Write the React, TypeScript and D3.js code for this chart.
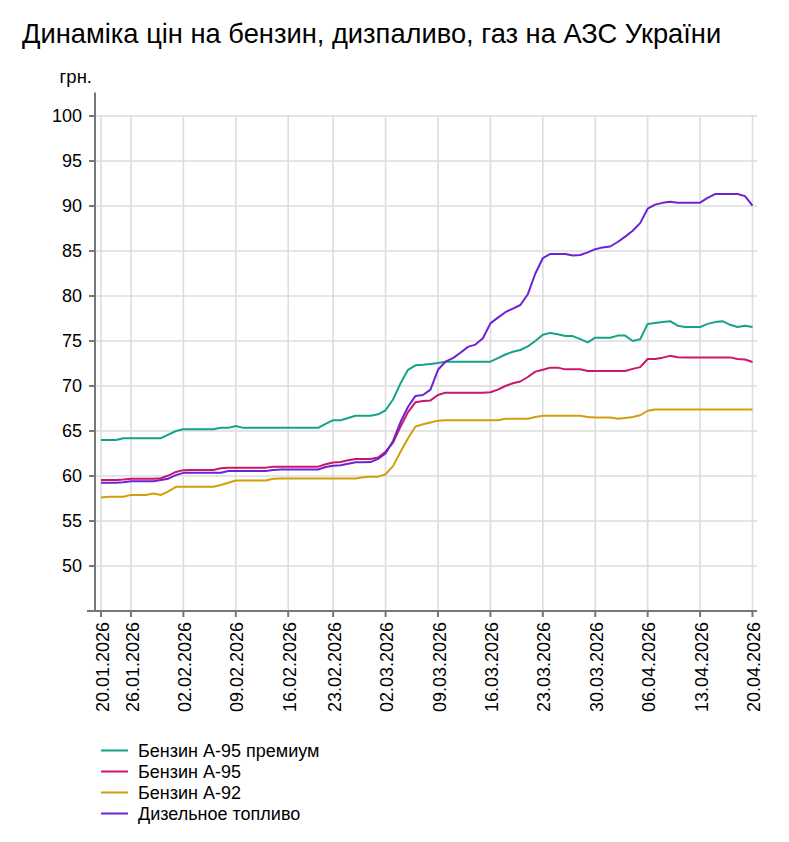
import * as d3 from 'd3';

// categories: trading days shown on the chart (a few days are absent in the source)
const skippedDays = ['24.01.2026', '25.01.2026', '22.02.2026'];
const fmt = d3.timeFormat('%d.%m.%Y');
const dates = d3.timeDay
  .range(new Date(2026, 0, 20), new Date(2026, 3, 21))
  .map(fmt)
  .filter(d => !skippedDays.includes(d));

const tickLabels = [
  '20.01.2026', '26.01.2026', '02.02.2026', '09.02.2026', '16.02.2026', '23.02.2026', '02.03.2026',
  '09.03.2026', '16.03.2026', '23.03.2026', '30.03.2026', '06.04.2026', '13.04.2026', '20.04.2026',
];

const yTicks = [50, 55, 60, 65, 70, 75, 80, 85, 90, 95, 100];

const a95premium = [
  64.0, 64.0, 64.0, 64.2, 64.2, 64.2, 64.2, 64.2, 64.2, 64.6,
  65.0, 65.2, 65.2, 65.2, 65.2, 65.2, 65.35, 65.35, 65.55, 65.35,
  65.35, 65.35, 65.35, 65.35, 65.35, 65.35, 65.35, 65.35, 65.35, 65.35,
  65.8, 66.2, 66.2, 66.45, 66.7, 66.7, 66.7, 66.85, 67.3, 68.5,
  70.3, 71.8, 72.3, 72.35, 72.45, 72.55, 72.7, 72.7, 72.7, 72.7,
  72.7, 72.7, 72.7, 73.1, 73.5, 73.8, 74.0, 74.4, 75.0, 75.7,
  75.9, 75.75, 75.55, 75.55, 75.2, 74.85, 75.37, 75.37, 75.37, 75.6,
  75.6, 75.0, 75.2, 76.9, 77.0, 77.1, 77.2, 76.7, 76.55, 76.55,
  76.55, 76.9, 77.1, 77.2, 76.8, 76.55, 76.7, 76.55,
];

const a95 = [
  59.55, 59.55, 59.55, 59.6, 59.7, 59.7, 59.7, 59.7, 59.75, 60.05,
  60.45, 60.65, 60.67, 60.67, 60.67, 60.67, 60.85, 60.93, 60.93, 60.93,
  60.93, 60.93, 60.93, 61.04, 61.04, 61.04, 61.04, 61.04, 61.04, 61.04,
  61.3, 61.5, 61.55, 61.75, 61.9, 61.9, 61.9, 62.05, 62.7, 63.7,
  65.5, 67.1, 68.2, 68.33, 68.4, 69.0, 69.26, 69.26, 69.26, 69.26,
  69.26, 69.26, 69.3, 69.6, 70.0, 70.3, 70.5, 71.0, 71.6, 71.8,
  72.04, 72.04, 71.85, 71.85, 71.85, 71.67, 71.67, 71.67, 71.67, 71.67,
  71.67, 71.9, 72.1, 73.0, 73.0, 73.15, 73.35, 73.2, 73.18, 73.18,
  73.18, 73.18, 73.18, 73.18, 73.18, 73.0, 72.95, 72.67,
];

const a92 = [
  57.6, 57.7, 57.7, 57.7, 57.9, 57.9, 57.9, 58.05, 57.9, 58.3,
  58.8, 58.8, 58.8, 58.8, 58.8, 58.8, 59.0, 59.25, 59.5, 59.5,
  59.5, 59.5, 59.5, 59.7, 59.72, 59.72, 59.72, 59.72, 59.72, 59.72,
  59.72, 59.72, 59.72, 59.72, 59.72, 59.85, 59.93, 59.93, 60.2, 61.1,
  62.7, 64.2, 65.5, 65.75, 65.95, 66.15, 66.2, 66.2, 66.2, 66.2,
  66.2, 66.2, 66.2, 66.2, 66.37, 66.37, 66.37, 66.37, 66.55, 66.7,
  66.7, 66.7, 66.7, 66.7, 66.7, 66.55, 66.5, 66.5, 66.5, 66.35,
  66.45, 66.55, 66.75, 67.25, 67.4, 67.4, 67.4, 67.4, 67.4, 67.4,
  67.4, 67.4, 67.4, 67.4, 67.4, 67.4, 67.4, 67.4,
];

const diesel = [
  59.26, 59.26, 59.26, 59.3, 59.41, 59.41, 59.41, 59.41, 59.55, 59.7,
  60.1, 60.35, 60.37, 60.37, 60.37, 60.37, 60.37, 60.55, 60.55, 60.55,
  60.55, 60.55, 60.55, 60.67, 60.72, 60.72, 60.72, 60.72, 60.72, 60.72,
  61.0, 61.15, 61.2, 61.35, 61.52, 61.52, 61.55, 61.9, 62.5, 63.9,
  66.0, 67.7, 68.9, 69.0, 69.6, 71.8, 72.7, 73.1, 73.7, 74.35,
  74.6, 75.3, 76.96, 77.6, 78.2, 78.6, 79.0, 80.2, 82.5, 84.2,
  84.67, 84.67, 84.67, 84.5, 84.55, 84.85, 85.2, 85.4, 85.5, 86.0,
  86.6, 87.25, 88.1, 89.7, 90.15, 90.35, 90.48, 90.37, 90.37, 90.37,
  90.37, 90.9, 91.33, 91.33, 91.33, 91.33, 91.1, 90.04,
];

const seriesNames = ['Бензин А-95 премиум', 'Бензин А-95', 'Бензин А-92', 'Дизельное топливо'];
const seriesColors = ['#13a386', '#c8176c', '#d19e0e', '#6d22d4'];
const seriesValues = [a95premium, a95, a92, diesel];

const width = 789;
const height = 842;
const margin = { top: 93.5, right: 32, bottom: 231, left: 95 };
const font = '"Liberation Sans", Arial, sans-serif';

export default function App() {
  const bottom = height - margin.bottom;
  const right = width - margin.right;

  const x = d3.scalePoint<string>().domain(dates).range([margin.left + 6, right - 4.5]);
  const y = d3.scaleLinear().domain([45, 102.5]).range([bottom, margin.top]);

  const line = d3
    .line<number>()
    .x((_, i) => x(dates[i]) as number)
    .y(v => y(v));

  return (
    <svg
      width={width}
      height={height}
      style={{ position: 'absolute', left: 0, top: 0, fontFamily: font }}
    >
      <text x={22} y={43} fontSize={27.3} fill="#000">
        Динаміка цін на бензин, дизпаливо, газ на АЗС України
      </text>

      {/* grid */}
      <g stroke="#dddddd" strokeWidth={1.6}>
        {yTicks.map(t => (
          <line key={t} x1={margin.left} x2={right} y1={y(t)} y2={y(t)} />
        ))}
        {tickLabels.map(d => (
          <line key={d} x1={x(d)} x2={x(d)} y1={y(100)} y2={bottom} />
        ))}
      </g>

      {/* y axis */}
      <g stroke="#777" strokeWidth={2}>
        <line x1={margin.left} x2={margin.left} y1={margin.top - 1} y2={bottom} />
        {yTicks.map(t => (
          <line key={t} x1={margin.left - 6} x2={margin.left} y1={y(t)} y2={y(t)} />
        ))}
      </g>
      <g fontSize={18} textAnchor="end" fill="#000">
        {yTicks.map(t => (
          <text key={t} x={82} y={y(t)} dy="0.35em">
            {t}
          </text>
        ))}
        <text x={92} y={83} fontSize={18.5}>
          грн.
        </text>
      </g>

      {/* x axis */}
      <g stroke="#777" strokeWidth={2}>
        <line x1={margin.left - 8} x2={right} y1={bottom} y2={bottom} />
        {tickLabels.map(d => (
          <line key={d} x1={x(d)} x2={x(d)} y1={bottom} y2={bottom + 6} />
        ))}
      </g>
      <g fontSize={18} textAnchor="end" fill="#000">
        {tickLabels.map(d => (
          <text key={d} transform={`translate(${x(d)},${bottom + 11}) rotate(-90)`} dy="0.42em">
            {d}
          </text>
        ))}
      </g>

      {/* series */}
      <g fill="none" strokeWidth={2} strokeLinejoin="round">
        {seriesValues.map((vals, i) => (
          <path key={seriesNames[i]} d={line(vals) ?? ''} stroke={seriesColors[i]} />
        ))}
      </g>

      {/* legend */}
      <g fontSize={18} fill="#000">
        {seriesNames.map((name, i) => (
          <g key={name} transform={`translate(101,${750.5 + i * 21})`}>
            <line x1={0} x2={27} stroke={seriesColors[i]} strokeWidth={2} />
            <text x={37} dy="0.35em">
              {name}
            </text>
          </g>
        ))}
      </g>
    </svg>
  );
}
